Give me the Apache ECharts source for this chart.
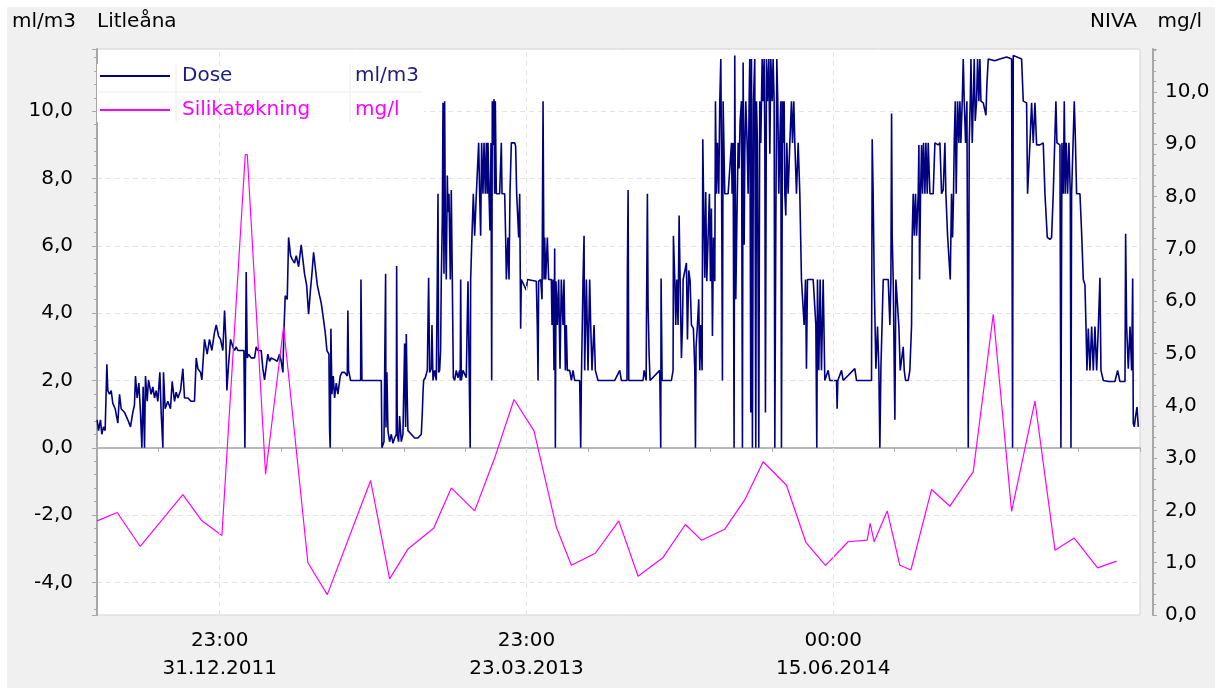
<!DOCTYPE html>
<html>
<head>
<meta charset="utf-8">
<title>Litleåna</title>
<script src="https://cdn.jsdelivr.net/npm/echarts@6/dist/echarts.min.js"></script>
<style>
    body { margin: 0; background: #fff; }
    #panel { position: absolute; left: 7px; top: 7px; width: 1208px; height: 681px; background: #f0f0f0; }
    #chartmain { position: absolute; left: 0; top: 0; width: 1225px; height: 688px; }
</style>
<script>
    // x = days from the left edge of the axis (one x tick = 89.6 days)
    var xTickDays = [179.2, 627.2, 1075.2];
    var xTickLabels = ['23:00\n31.12.2011', '23:00\n23.03.2013', '00:00\n15.06.2014'];

    var seriesNames = ['Dose', 'Silikatøkning'];
    var seriesUnits = ['ml/m3', 'mg/l'];

    // Silikatøkning, mg/l (right axis)
    var silikat = [
        [0.2,1.80],[29.5,1.96],[63.1,1.31],[125.4,2.30],[153.2,1.80],[182.4,1.52],[216.5,8.8],[219.5,8.8],
        [246.2,2.69],[272.5,5.51],[308,1.0],[336.3,0.39],[399.6,2.57],[427.3,0.69],[454.1,1.26],[491.6,1.66],
        [517.4,2.43],[551.5,1.99],[580.7,3.0],[609,4.12],[638.2,3.52],[670.8,1.68],[692.8,0.95],[727.8,1.18],
        [762,1.80],[790.2,0.74],[826.7,1.10],[859.3,1.73],[882.7,1.43],[916.8,1.64],[946,2.20],[972.8,2.93],
        [1006.9,2.48],[1035.2,1.39],[1063.9,0.95],[1097,1.40],[1124.8,1.43],[1129.1,1.75],[1135,1.40],[1154,1.99],
        [1172.5,0.95],[1188.6,0.86],[1218.8,2.40],[1245.6,2.08],[1279.7,2.74],[1308.9,5.75],[1335.7,1.98],[1369.8,4.09],
        [1399,1.24],[1427.2,1.47],[1461.3,0.90],[1489.1,1.03]
    ];

    // Dose, ml/m3 (left axis)
    var dose = [
        [0.2,0.83],[2.2,0.51],[5.1,0.83],[7,0.4],[9.5,0.62],[11.9,0.51],[14.4,2.48],[15.8,1.7],[18.3,1.59],[20.7,1.7],
        [23.1,1.32],[26.5,1.16],[30.4,0.73],[32.9,1.59],[35.3,1.16],[40.2,1.05],[45,0.83],[48.9,0.62],[52.3,1.05],[54.7,1.27],
        [56.2,2.13],[58.6,1.48],[61.1,1.92],[63.5,1.05],[65.5,0],[67.4,1.81],[69.4,0],[70.8,2.13],[73.3,1.38],[75.2,2.02],
        [79.1,1.59],[81.5,1.81],[84,1.48],[86.4,1.7],[88.8,1.38],[91.8,2.24],[93.7,1.05],[96.2,0],[97.1,2.24],[99.5,1.16],
        [103.4,1.38],[107.3,1.16],[109.8,1.97],[113.2,1.38],[115.6,1.65],[118.1,1.48],[122,1.7],[125.4,2.35],[127.8,1.48],[132.7,1.48],
        [137.5,1.38],[142.4,1.38],[144.9,2.67],[147.3,2.35],[151.2,2.24],[153.2,2.02],[157,3.22],[160.9,2.78],[164.3,3.22],[167.7,2.89],
        [171.6,3.43],[174.1,3.65],[177.5,3.32],[180.4,3.22],[183.8,2.89],[186.3,4.08],[188.2,3.22],[189.7,1.7],[192.1,2.46],[195,3.22],
        [198.4,3.0],[200.9,2.89],[203.3,3.0],[205.7,2.89],[210.6,2.89],[214.5,2.89],[216,0],[217,2.78],[217.9,5.22],[219.4,2.67],
        [221.3,2.78],[225.2,2.67],[230.1,2.67],[232.5,3.0],[234.9,2.89],[239.8,2.89],[242.2,2.35],[244.7,2.02],[247.1,2.02],[249.5,2.78],
        [252,2.57],[254.4,2.67],[259.3,2.62],[263.2,2.57],[266.6,2.78],[269,2.57],[271.5,2.24],[272.9,3.43],[274.9,4.52],[277.8,4.41],
        [279.8,6.25],[282.7,5.71],[285.1,5.6],[288.5,5.49],[291,5.71],[294.4,5.38],[298.2,6.03],[300.7,6.03],[303.1,5.17],[306.1,4.84],
        [309,3.97],[311.9,4.73],[313.9,5.17],[316.3,5.81],[318.7,5.38],[321.7,4.84],[325,4.52],[327.5,4.3],[330.4,3.87],[333.3,3.43],
        [335.8,2.89],[338.7,2.78],[339.7,0.51],[340.6,0],[341.6,3.54],[343.1,1.59],[345,2.13],[347,1.48],[349.4,1.92],[351.8,1.59],
        [355.2,2.13],[357.7,2.24],[361.6,2.24],[365.5,2.13],[366.4,4.08],[367.4,2.3],[370.3,2.0],
        [376.2,2.0],[385,2.0],[385.5,5.0],[386.4,5.0],[386.9,2.0],[415.2,2.0],[416.1,0],[419.1,0.18],[421,0.13],[421.5,5.17],
        [422,0.6],[423.4,2.24],[424.9,0.51],[427.3,0.18],[429.8,0.4],[432.2,0.13],[434.6,0.29],[437.1,0.4],[437.6,5.4],[438.5,0.4],
        [440.5,0.18],[441.9,0.94],[444.4,0.18],[446.8,0.4],[449.3,3.1],[450.7,0.62],[451.7,3.38],[453.1,1.48],[454.1,0.51],[459,0.4],
        [463.9,0.29],[468.7,0.29],[473.6,0.4],[475.1,1.05],[476,1.59],[477,2.0],[479.4,2.08],[482.4,2.3],[484.3,5.05],[485.8,2.24],
        [488.2,2.35],[489.2,3.65],[490.7,2.0],[493.1,2.3],[495.5,2.0],[497,5.05],[498,7.55],[498.9,2.24],[500.4,2.3],[501.8,2.89],
        [502.8,5.0],[504.3,6.79],[505.3,10.25],[506.7,5.17],[507.7,10.3],[508.7,6.68],[510.1,5.0],[511.6,8.09],[512.6,7.0],[514,7.55],
        [516,5.0],[517.4,7.66],[518.9,5.0],[520.4,2.08],[522.3,2.0],[524.7,2.3],[527.2,2.08],[529.6,2.3],[530.5,2.0],[531.1,5.0],
        [532,2.0],[534.5,2.3],[539.3,2.08],[540.8,3.87],[541.8,4.95],[543.2,5.0],[545,0],[545.7,5.0],[546.7,5.05],[547.6,6.3],
        [549.6,7.55],[551.5,6.3],[554,7.55],[557.4,9.06],[558.8,7.55],[560.3,6.3],[561.7,9.06],[563.7,7.55],[565.2,9.06],[567.1,7.55],
        [568.6,9.06],[570,7.55],[571,9.06],[572.5,7.55],[573.9,6.46],[575.4,9.06],[576.4,2.0],[577.3,10.3],[578.3,9.0],[579.8,10.36],
        [580.7,7.55],[581.7,10.3],[583.2,7.55],[588,7.55],[590.5,9.06],[591.5,7.55],[595.4,7.55],[596.8,6.25],[597.8,5.0],[600.2,6.25],
        [601.7,5.0],[603.1,7.55],[605.1,9.06],[610,9.06],[611.4,8.96],[612.9,7.55],[614.8,7.55],[615.8,6.25],[617.3,7.55],[618.7,3.54],
        [619.7,5.0],[622.1,5.0],[627,4.68],[628.5,5.0],[641.6,4.95],[643.1,3.54],[644.1,2.0],[645,4.95],[648,5.0],[649.9,4.41],
        [651.4,10.3],[652.8,5.0],[653.8,6.25],[655.3,5.0],[657.7,6.25],[659.6,5.0],[663.5,5.0],[664.5,3.65],[666,5.0],[667.4,2.3],
        [668.4,5.92],[669.4,0],[670.3,4.95],[672.3,3.65],[674.2,5.0],[676.2,2.35],[678.1,5.0],[680.6,3.65],[682,5.0],[684,2.3],
        [685.4,3.65],[686.9,2.3],[690.3,2.3],[692.8,2.0],[695.2,2.3],[697.6,2.0],[704.9,2.0],[706.4,0],[707.4,2.0],[708.3,2.0],
        [709.8,5.0],[711.3,6.3],[712.2,2.3],[714.7,5.0],[717.1,2.3],[719.5,5.0],[721,3.65],[722.9,2.3],[725.9,3.65],[727.8,2.3],
        [731.7,2.0],
        [756.1,2.0],[763.4,2.3],[765.8,2.0],[774,2.0],[774.6,5.22],[775.6,7.66],[776.6,2.0],[797.5,2.0],[799,2.3],[802,2.0],
        [802.4,3.65],[803.8,7.55],[804.8,4.24],[806.3,2.78],[807.7,2.0],[821.8,2.3],[823.3,0],[823.8,5.03],[825.3,2.0],[838.9,2.0],
        [841.3,2.3],[841.8,6.3],[843.8,5.0],[845.2,3.65],[846.7,5.0],[848.6,3.65],[850.1,6.9],[851.6,5.0],[853.5,2.67],[855,3.65],
        [856,5.0],[858.4,4.95],[860.8,5.49],[862.3,3.22],[864.2,5.27],[866.2,4.95],[868.1,3.65],[871,3.54],[873,2.35],[874,0],
        [874.9,3.0],[876.9,3.65],[878.8,4.41],[880.3,2.3],[881.7,3.65],[883.7,2.3],[884.7,9.17],[886.1,7.0],[887.6,5.05],[889,7.6],
        [890.5,4.95],[892.5,4.95],[894.4,7.55],[895.9,4.95],[897.3,7.11],[898.8,3.32],[900.3,6.25],[902.2,4.95],[903.2,10.3],[904.6,7.55],
        [906.1,9.06],[908,7.55],[909.5,10.3],[911,11.55],[911.9,9.06],[913.4,2.0],[914.4,10.3],[916.8,7.55],[921.7,7.55],[926.6,9.06],
        [927.5,7.55],[929,9.06],[930.4,0],[931.4,11.66],[932.9,4.41],[934.3,6.46],[936.3,9.06],[937.7,8.3],[939.2,9.71],[941.2,10.3],
        [942.6,0],[943.6,11.45],[945.1,6.03],[946,8.74],[947.5,10.3],[949.4,9.06],[950.9,7.55],[952.4,10.3],[953.3,11.55],[954.8,1.05],
        [955.8,11.55],[957.2,0],[958.7,10.3],[960.6,11.55],[962.1,0],[963.1,10.3],[964.5,9.06],[966.5,0],[967.9,10.3],[969.4,9.06],
        [971.4,11.55],[972.8,10.3],[974.3,11.55],[975.3,9.06],[976.2,1.05],[977.7,11.55],[979.1,10.3],[981.1,11.55],[982.6,8.74],[984,11.55],
        [986,10.3],[987.4,11.55],[988.9,10.3],[989.9,0],[991.3,6.3],[992.8,11.55],[994.2,10.3],[995.7,7.55],[997.2,9.06],[998.6,10.3],
        [999.6,0],[1001.1,10.3],[1002.5,9.06],[1003.5,10.3],[1004.5,7.55],[1005.9,6.9],[1007.4,9.06],[1009.3,7.55],[1011.8,9.06],[1014.2,10.3],
        [1015.7,9.06],[1017.6,10.3],[1019.1,9.06],[1021.5,7.55],[1024,9.06],[1026.4,7.55],[1027.8,7.55],[1028.8,5.0],[1031.3,5.0],[1032.7,3.65],
        [1034.7,5.0],[1036.1,2.35],[1037.6,5.0],[1041,5.0],[1045.9,5.0],[1048.3,5.0],[1049.8,3.65],[1051.2,0],[1052.2,5.0],[1054.1,2.3],
        [1056.1,5.0],[1058,2.3],[1060.5,5.0],[1062.9,2.0],[1067.8,2.3],[1070.2,2.0],[1080,2.0],[1080.9,1.16],[1081.9,2.0],[1087.3,2.3],
        [1089.7,2.0],[1106.7,2.35],[1109.2,2.0],[1131.1,2.0],[1132.1,9.17],[1133.5,7.55],[1135,5.0],
        [1136,5.0],[1137.5,2.35],[1139.9,3.6],[1141.8,2.35],[1143.3,0],[1144.8,2.35],[1146.7,2.3],[1148.2,5.0],[1155.5,5.0],[1157.9,3.65],
        [1159.4,5.0],[1160.4,9.93],[1161.3,6.3],[1162.8,5.0],[1165.2,0.83],[1166.7,5.0],[1169.1,5.0],[1171.1,3.6],[1173,2.3],[1177.4,3.0],
        [1178.9,2.3],[1180.8,2.0],[1184.7,2.0],[1187.1,2.3],[1189.6,3.65],[1190.5,6.3],[1192,7.55],[1193.5,6.3],[1195.4,7.55],[1196.9,6.3],
        [1199.3,7.55],[1200.3,9.0],[1201.3,5.0],[1202.7,7.55],[1204.2,9.0],[1205.6,7.55],[1207.1,9.06],[1209.1,7.55],[1210.5,9.06],[1212.5,7.55],
        [1213.9,9.06],[1216.4,7.55],[1221.2,7.55],[1223.7,9.06],[1228.5,9.0],[1231,9.06],[1233.4,7.55],[1235.8,7.66],[1238.3,9.06],[1239.7,7.55],
        [1242.2,6.3],[1244.1,6.25],[1246.1,5.0],[1248,7.55],[1249.5,6.25],[1250.9,7.55],[1251.9,9.06],[1253.4,10.3],[1254.8,7.55],[1255.8,9.06],
        [1256.8,10.3],[1258.7,9.06],[1260.2,10.3],[1261.6,9.06],[1263.6,10.3],[1265.1,11.55],[1266.5,10.3],[1268.5,9.06],[1270.4,10.3],[1272.4,0],
        [1273.8,9.06],[1275.3,10.3],[1276.3,11.55],[1278.2,9.06],[1279.7,10.3],[1281.1,11.55],[1282.6,9.71],[1284.5,10.3],[1286,11.55],[1287.9,10.3],
        [1289.4,11.55],[1290.9,10.3],[1294.3,10.25],[1298.2,9.88],[1299.6,10.8],[1301.6,11.55],[1311.3,11.5],[1318.6,11.55],[1328.4,11.61],[1335.7,11.55],
        [1337.1,0],[1338.1,11.66],[1350.3,11.55],[1352.7,10.3],[1357.6,10.25],[1359,7.55],[1361,7.55],[1362.5,9.06],[1364.9,10.25],[1367.3,9.06],
        [1369.8,10.25],[1372.2,9.0],[1377.1,9.0],[1381.9,9.06],[1384.4,7.55],[1386.8,7.55],[1387.8,6.25],[1391.7,6.19],[1394.1,6.25],[1396.5,7.55],
        [1399,7.55],[1400.4,10.3],[1401.9,9.06],[1406.3,9.0],[1407.7,0],[1409.2,9.06],[1411.2,7.55],[1412.6,10.3],[1414.1,7.55],[1415.5,9.06],
        [1417.5,7.55],[1419.4,9.06],[1421.4,7.55],[1422.4,0],[1423.3,7.55],[1425.8,7.55],[1427.2,10.3],[1428.7,9.28],[1430.6,7.55],[1435.5,7.55],
        [1437.9,6.41],[1440.4,5.0],[1442.8,4.84],[1444.3,3.65],[1445.7,2.3],[1447.7,3.54],[1450.1,2.3],[1452.6,3.6],[1455,2.3],[1457.4,3.6],
        [1459.9,2.3],[1462.3,3.54],[1464.7,5.05],[1466.2,2.3],[1469.6,2.0],[1476.9,1.97],[1486.6,1.97],[1490.5,2.3],[1493.9,1.97],[1501.3,1.97],
        [1502.2,6.36],[1503.7,3.6],[1506.1,2.35],[1508.6,3.6],[1511,2.3],[1512.5,5.03],[1513.4,0.73],[1514.9,0.62],[1516.8,0.94],[1518.8,1.21],
        [1520.7,0.62]
    ];
</script>
</head>
<body>
<div id="panel"></div>
<div id="chartmain"></div>

<script type="text/javascript">
    var FONT = 'DejaVu Sans';
    var FS = 20;
    var axisGrey = '#a8a8a8';

    // 10,0 style labels
    function comma(v) {
        return v.toFixed(1).replace('.', ',');
    }

    var myChart = echarts.init(document.getElementById('chartmain'));

    var titleStyle = {fontSize: FS, fontWeight: 'normal', color: '#000', fontFamily: FONT};

    var option = {
        animation: false,
        title: [
            {text: 'ml/m3', left: 12, top: 12, padding: 0, textStyle: titleStyle},
            {text: 'Litleåna', left: 97, top: 12, padding: 0, textStyle: titleStyle},
            {text: 'NIVA', right: 88, top: 12, padding: 0, textStyle: titleStyle},
            {text: 'mg/l', right: 23, top: 12, padding: 0, textStyle: titleStyle}
        ],
        grid: {
            left: 97, right: 85, top: 49, bottom: 73,
            show: true, backgroundColor: '#fff', borderColor: '#d4d4d4', borderWidth: 1
        },
        legend: {
            left: 97, top: 64, orient: 'vertical',
            padding: [2, 3, 2, 3], backgroundColor: '#fff',
            icon: 'rect', itemWidth: 70, itemHeight: 2, itemGap: 14,
            data: [
                {name: seriesNames[0], textStyle: {color: '#1c1c80'}},
                {name: seriesNames[1], textStyle: {color: '#ff00ff'}}
            ],
            formatter: function (name) {
                return '{n|' + name + '}{u|' + seriesUnits[seriesNames.indexOf(name)] + '}';
            },
            textStyle: {
                fontSize: FS, fontFamily: FONT, lineHeight: 20,
                rich: {
                    n: {width: 173, padding: [0, 0, 0, 7], fontSize: FS, fontFamily: FONT},
                    u: {width: 66, fontSize: FS, fontFamily: FONT}
                }
            }
        },
        graphic: [
            {type: 'line', z: 100, shape: {x1: 176, y1: 64, x2: 176, y2: 122}, style: {stroke: '#ececec', lineWidth: 1}},
            {type: 'line', z: 100, shape: {x1: 350, y1: 64, x2: 350, y2: 122}, style: {stroke: '#ececec', lineWidth: 1}},
            {type: 'line', z: 100, shape: {x1: 98, y1: 92, x2: 423, y2: 92}, style: {stroke: '#ececec', lineWidth: 1}}
        ],
        xAxis: {
            type: 'value', min: 0, max: 1523.2, interval: 89.6, offset: 12,
            axisLine: {show: true, lineStyle: {color: '#b8b8b8', width: 2}},
            axisTick: {show: true, length: 4, lineStyle: {color: axisGrey}},
            axisLabel: {
                margin: 0, fontSize: FS, lineHeight: 28, color: '#000', fontFamily: FONT,
                formatter: function (v) {
                    for (var i = 0; i < xTickDays.length; i++) {
                        if (Math.abs(v - xTickDays[i]) < 1) return xTickLabels[i];
                    }
                    return '';
                }
            },
            splitLine: {show: false}
        },
        yAxis: [
            {
                type: 'value', position: 'left', min: -4.97, max: 11.85, splitNumber: 8, offset: 11,
                axisLine: {show: true, lineStyle: {color: axisGrey, width: 2}},
                axisTick: {show: true, length: 5, lineStyle: {color: axisGrey}},
                minorTick: {show: true, splitNumber: 5, length: 3, lineStyle: {color: axisGrey}},
                axisLabel: {
                    margin: 13, fontSize: FS, color: '#000', fontFamily: FONT,
                    formatter: function (v) {
                        return Math.abs(v / 2 - Math.round(v / 2)) < 1e-6 ? comma(v) : '';
                    }
                },
                splitLine: {show: true, lineStyle: {type: [5, 4], color: '#e4e4e4'}}
            },
            {
                type: 'value', position: 'right', min: 0, max: 10.82, interval: 1, offset: 13,
                axisLine: {show: true, lineStyle: {color: axisGrey, width: 2}},
                axisTick: {show: true, length: 4, lineStyle: {color: axisGrey}},
                minorTick: {show: true, splitNumber: 5, length: 3, lineStyle: {color: axisGrey}},
                axisLabel: {
                    margin: 12, fontSize: FS, color: '#000', fontFamily: FONT,
                    formatter: function (v) {
                        return Math.abs(v - Math.round(v)) < 1e-6 ? comma(v) : '';
                    }
                },
                splitLine: {show: false}
            }
        ],
        series: [
            {
                name: seriesNames[0],
                type: 'line',
                yAxisIndex: 0,
                data: dose,
                showSymbol: false,
                symbol: 'none',
                color: '#000080',
                lineStyle: {width: 1.6, color: '#000080'},
                markLine: {
                    silent: true,
                    symbol: 'none',
                    label: {show: false},
                    lineStyle: {type: [5, 4], color: '#e4e4e4', width: 1},
                    data: xTickDays.map(function (d) { return {xAxis: d}; })
                },
                z: 3
            },
            {
                name: seriesNames[1],
                type: 'line',
                yAxisIndex: 1,
                data: silikat,
                showSymbol: false,
                symbol: 'none',
                color: '#ff00ff',
                lineStyle: {width: 1.2, color: '#ff00ff'},
                z: 4
            }
        ]
    };

    myChart.setOption(option);
</script>
</body>
</html>
